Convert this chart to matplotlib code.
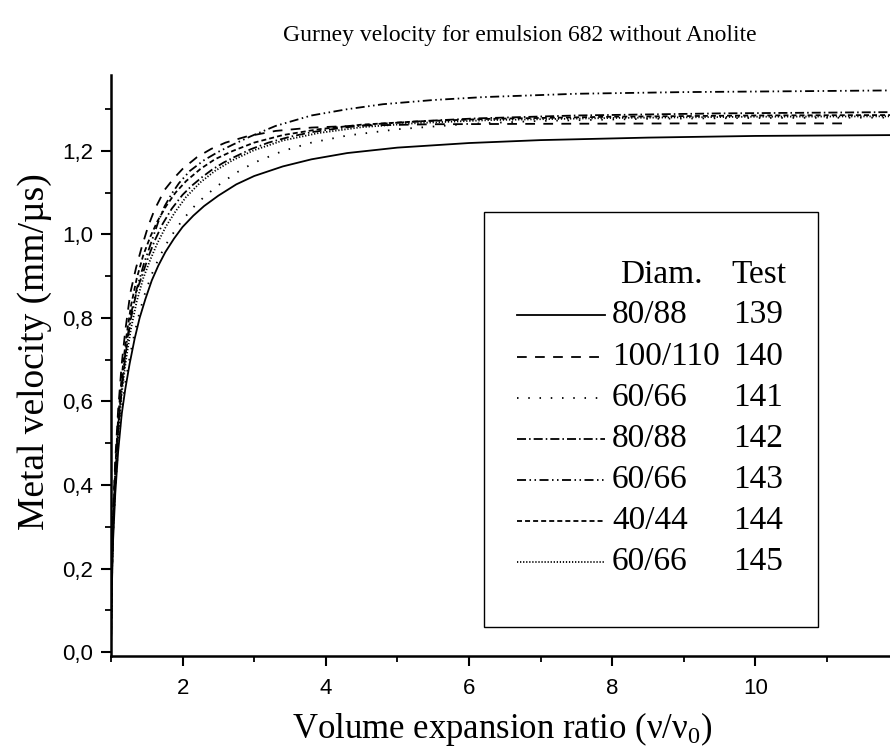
import matplotlib
matplotlib.use('Agg')
import matplotlib.pyplot as plt
from matplotlib import font_manager
from matplotlib.patches import Rectangle
from matplotlib.lines import Line2D
from matplotlib.ticker import MultipleLocator, FuncFormatter

# curve values (x = v/v0, y = metal velocity in mm/us)
x139 = [1.0, 1.01, 1.03, 1.06, 1.10, 1.15, 1.20, 1.26, 1.33, 1.40, 1.48, 1.57, 1.66, 1.76, 1.88, 2.0, 2.15, 2.3,
        2.5, 2.75, 3.0, 3.4, 3.8, 4.3, 5.0, 6.0, 7.0, 8.5, 10.0, 11.9]
v139 = [0, 0.14, 0.27, 0.38, 0.48, 0.57, 0.63, 0.69, 0.75, 0.80, 0.845, 0.89, 0.925, 0.958, 0.99, 1.018, 1.045,
        1.068, 1.093, 1.12, 1.14, 1.163, 1.18, 1.195, 1.208, 1.219, 1.226, 1.232, 1.236, 1.238]

x140 = [1.0, 1.01, 1.03, 1.06, 1.10, 1.15, 1.20, 1.27, 1.35, 1.43, 1.52, 1.61, 1.75, 1.88, 2.0, 2.2, 2.4, 2.6,
        2.9, 3.3, 3.8, 4.5, 5.5, 7.0, 9.0, 11.3]
v140 = [0, 0.2, 0.34, 0.46, 0.58, 0.69, 0.77, 0.86, 0.92, 0.97, 1.02, 1.06, 1.107, 1.135, 1.157, 1.185, 1.205,
        1.22, 1.235, 1.248, 1.256, 1.261, 1.264, 1.265, 1.266, 1.266]

x141 = [1.0, 1.01, 1.03, 1.06, 1.10, 1.15, 1.20, 1.26, 1.33, 1.40, 1.48, 1.57, 1.66, 1.76, 1.88, 2.0, 2.15, 2.3,
        2.5, 2.75, 3.0, 3.4, 3.8, 4.3, 5.0, 6.0, 7.0, 8.5, 10.0, 11.9]
v141 = [0, 0.15, 0.28, 0.39, 0.49, 0.58, 0.645, 0.705, 0.765, 0.815, 0.862, 0.905, 0.94, 0.974, 1.006, 1.035,
        1.065, 1.09, 1.118, 1.148, 1.172, 1.2, 1.22, 1.237, 1.252, 1.265, 1.272, 1.277, 1.279, 1.28]

x142 = [1.0, 1.01, 1.03, 1.06, 1.10, 1.15, 1.21, 1.28, 1.36, 1.45, 1.53, 1.61, 1.72, 1.85, 2.0, 2.13, 2.27, 2.41,
        2.57, 2.73, 2.95, 3.2, 3.5, 3.8, 4.25, 4.75, 5.4, 6.1, 7.5, 9.5, 11.9]
v142 = [0, 0.17, 0.30, 0.42, 0.53, 0.63, 0.72, 0.80, 0.865, 0.91, 0.95, 0.985, 1.025, 1.062, 1.095, 1.117, 1.137,
        1.155, 1.172, 1.186, 1.204, 1.22, 1.234, 1.245, 1.256, 1.265, 1.272, 1.278, 1.285, 1.29, 1.293]

x143 = [1.0, 1.01, 1.03, 1.06, 1.10, 1.15, 1.21, 1.28, 1.36, 1.46, 1.57, 1.66, 1.75, 1.85, 1.95, 2.1, 2.3, 2.5,
        2.7, 2.95, 3.3, 3.8, 4.3, 4.8, 5.5, 6.2, 7.5, 9.0, 10.5, 11.9]
v143 = [0, 0.18, 0.31, 0.43, 0.54, 0.64, 0.73, 0.81, 0.87, 0.93, 0.985, 1.03, 1.068, 1.098, 1.123, 1.152, 1.178,
        1.198, 1.215, 1.235, 1.26, 1.285, 1.30, 1.312, 1.322, 1.329, 1.337, 1.341, 1.343, 1.345]

x144 = [1.0, 1.01, 1.03, 1.06, 1.10, 1.15, 1.21, 1.28, 1.36, 1.45, 1.55, 1.65, 1.77, 1.9, 2.05, 2.25, 2.45, 2.7,
        3.0, 3.4, 3.9, 4.5, 5.3, 6.3, 8.0, 10.0, 11.9]
v144 = [0, 0.19, 0.32, 0.44, 0.56, 0.66, 0.75, 0.83, 0.895, 0.95, 0.995, 1.032, 1.068, 1.1, 1.128, 1.157, 1.18,
        1.2, 1.22, 1.238, 1.252, 1.263, 1.271, 1.277, 1.282, 1.285, 1.286]

x145 = [1.0, 1.01, 1.03, 1.06, 1.10, 1.15, 1.21, 1.28, 1.36, 1.45, 1.55, 1.65, 1.77, 1.9, 2.05, 2.25, 2.45, 2.7,
        3.0, 3.4, 3.9, 4.5, 5.3, 6.3, 8.0, 10.0, 11.9]
v145 = [0, 0.16, 0.29, 0.41, 0.52, 0.62, 0.70, 0.775, 0.84, 0.895, 0.94, 0.98, 1.02, 1.055, 1.09, 1.125, 1.152,
        1.178, 1.202, 1.225, 1.243, 1.257, 1.267, 1.274, 1.279, 1.282, 1.283]

diam = ['80/88', '100/110', '60/66', '80/88', '60/66', '40/44', '60/66']
tests = ['139', '140', '141', '142', '143', '144', '145']

# dash patterns in points (not scaled by line width)
plt.rcParams['lines.scale_dashes'] = False
styles = ['-', (0, (7, 6)), (0, (1.1, 7)), (0, (6.5, 2.2, 1.1, 2.2)),
          (0, (6.5, 2.5, 1.1, 2.5, 1.1, 2.5)), (0, (3.6, 2.2)), (0, (0.9, 1.3))]

names = {f.name for f in font_manager.fontManager.ttflist}
tick_font = 'Liberation Sans Narrow' if 'Liberation Sans Narrow' in names else 'Liberation Sans'
serif = 'Liberation Serif'
plt.rcParams['mathtext.fontset'] = 'custom'
plt.rcParams['mathtext.rm'] = serif
plt.rcParams['mathtext.it'] = serif

fig = plt.figure(figsize=(8.9, 7.55), dpi=100)
ax = fig.add_axes([0.1247, 0.1311, 0.8753, 0.7696])

xs = [x139, x140, x141, x142, x143, x144, x145]
vs = [v139, v140, v141, v142, v143, v144, v145]
for x, v, ls in zip(xs, vs, styles):
    ax.plot(x, v, color='black', lw=1.3, linestyle=ls)

ax.set_xlim(1.0, 11.88)
ax.set_ylim(-0.0096, 1.382)
for s in ['top', 'right']:
    ax.spines[s].set_visible(False)
for s in ['left', 'bottom']:
    ax.spines[s].set_linewidth(1.8)

ax.xaxis.set_major_locator(MultipleLocator(2))
ax.xaxis.set_minor_locator(MultipleLocator(1))
ax.yaxis.set_major_locator(MultipleLocator(0.2))
ax.yaxis.set_minor_locator(MultipleLocator(0.1))
ax.xaxis.set_major_formatter(FuncFormatter(lambda val, pos: '%d' % round(val) if val > 1.5 else ''))
ax.yaxis.set_major_formatter(FuncFormatter(lambda val, pos: ('%.1f' % val).replace('.', ',')))
ax.tick_params(which='major', direction='out', length=7, width=1.5, labelsize=16)
ax.tick_params(which='minor', direction='out', length=4, width=1.3)
ax.tick_params(axis='x', which='major', pad=9)
ax.tick_params(axis='y', which='major', pad=6)
for lab in ax.get_xticklabels() + ax.get_yticklabels():
    lab.set_fontfamily(tick_font)

fig.text(520 / 890, 1 - 35 / 755, 'Gurney velocity for emulsion 682 without Anolite',
         family=serif, fontsize=17, ha='center', va='center')
fig.text(502 / 890, 1 - 738 / 755, r'Volume expansion ratio ($\mathrm{\nu/\nu_0}$)',
         family=serif, fontsize=25, ha='center', va='baseline')
fig.text(35 / 890, 1 - 352 / 755, 'Metal velocity (mm/µs)',
         family=serif, fontsize=27, ha='center', va='center', rotation=90)

# legend box with two text columns
fig.add_artist(Rectangle((484 / 890, 1 - 627 / 755), (818 - 484) / 890, (627 - 212) / 755,
                         transform=fig.transFigure, fill=False, lw=1.0, ec='black'))
fig.text(620 / 890, 1 - 275 / 755, 'Diam.', family=serif, fontsize=24, ha='left', va='center')
fig.text(731 / 890, 1 - 275 / 755, 'Test', family=serif, fontsize=24, ha='left', va='center')
row_y = [315, 357, 398, 439, 480, 521, 562]
for yy, ls, d, t in zip(row_y, styles, diam, tests):
    yf = 1 - yy / 755
    fig.add_artist(Line2D([517 / 890, 605 / 890], [yf, yf], transform=fig.transFigure,
                          color='black', lw=1.3, linestyle=ls))
    fig.text(612 / 890, yf, d, family=serif, fontsize=24, ha='left', va='center')
    fig.text(733 / 890, yf, t, family=serif, fontsize=24, ha='left', va='center')

fig.savefig('out.png', dpi=100)
